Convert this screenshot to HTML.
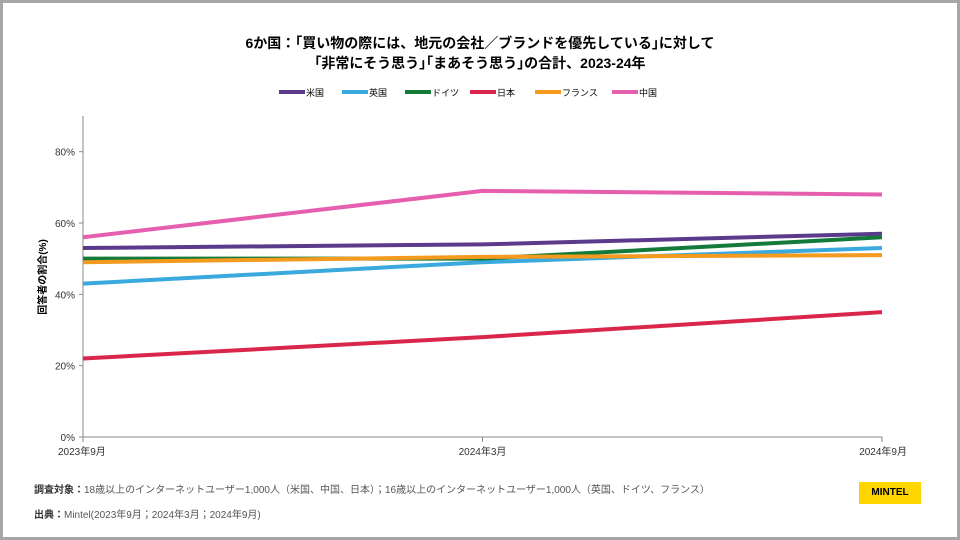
<!DOCTYPE html>
<html><head><meta charset="utf-8"><style>
body{margin:0;width:960px;height:540px;overflow:hidden;font-family:"Liberation Sans","Noto Sans CJK JP",sans-serif;}
#frame{position:absolute;left:0;top:0;width:954px;height:534px;border:3px solid #a6a6a6;background:#fff;}
.t{position:absolute;white-space:nowrap;}
</style></head><body>
<div id="frame"></div>
<div class="t" style="left:0;width:960px;top:33px;text-align:center;font-weight:bold;font-size:14px;line-height:20px;color:#000">6か国：｢買い物の際には、地元の会社／ブランドを優先している｣に対して<br>｢非常にそう思う｣｢まあそう思う｣の合計、2023-24年</div>
<svg id="chart" width="960" height="540" style="position:absolute;left:0;top:0"></svg>
<div class="t" style="left:34px;top:481px;font-size:10px;color:#555"><b style="color:#333">調査対象：</b>18歳以上のインターネットユーザー1,000人（米国、中国、日本）；16歳以上のインターネットユーザー1,000人（英国、ドイツ、フランス）</div>
<div class="t" style="left:34px;top:506px;font-size:10px;color:#555"><b style="color:#333">出典：</b>Mintel(2023年9月；2024年3月；2024年9月)</div>
<div class="t" style="left:859px;top:482px;width:62px;height:22px;background:#ffd500;font-weight:bold;font-size:10px;line-height:22px;text-align:center;color:#000">MINTEL</div>
<script>
const categories=["2023年9月","2024年3月","2024年9月"];
const seriesNames=["米国","英国","ドイツ","日本","フランス","中国"];
const seriesColors=["#5b3a8c","#3aa9de","#137a3a","#d9264a","#f39a1f","#e65fae"];
const usValues=[53,54,57];
const ukValues=[43,49,53];
const deValues=[50,50,56];
const jpValues=[22,28,35];
const frValues=[49,50.5,51];
const cnValues=[56,69,68];
const yTicks=[0,20,40,60,80];
const allSeries=[usValues,ukValues,deValues,jpValues,frValues,cnValues];
const NS="http://www.w3.org/2000/svg";
const svg=document.getElementById('chart');
const x0=83,x1=882,yb=437,yMax=90,yt=116;
const xs=i=>x0+(x1-x0)*i/(categories.length-1);
const ys=v=>yb-(yb-yt)*v/yMax;
function mk(t,a){const e=document.createElementNS(NS,t);for(const k in a)e.setAttribute(k,a[k]);svg.appendChild(e);return e;}
let e=mk('line',{x1:x0,y1:yt,x2:x0,y2:yb+4,stroke:'#888'});

e=mk('line',{x1:x0,y1:yb,x2:x1,y2:yb,stroke:'#888'});

yTicks.forEach(v=>{
 const l=mk('line',{x1:x0-4,y1:ys(v),x2:x0,y2:ys(v),stroke:'#888'});
 
 const t=mk('text',{x:x0-8,y:ys(v)+4,'text-anchor':'end','font-size':10,fill:'#333'});
 t.textContent=v+'%';
 
});
categories.forEach((c,i)=>{
 const l=mk('line',{x1:xs(i),y1:yb,x2:xs(i),y2:yb+5,stroke:'#888'});
 
 const anc=i==0?'start':(i==categories.length-1?'end':'middle');
 const t=mk('text',{x:i==0?x0-25:(i==categories.length-1?x1+25:xs(i)),y:yb+18,'text-anchor':anc,'font-size':10,fill:'#333'});
 t.textContent=c;
 
});
const yl=mk('text',{transform:'translate(46,277) rotate(-90)','text-anchor':'middle','font-size':10,'font-weight':'bold',fill:'#000'});
yl.textContent='回答者の割合(%)';

allSeries.forEach((vals,s)=>{
 const p=mk('polyline',{points:vals.map((v,i)=>xs(i)+','+ys(v)).join(' '),fill:'none',stroke:seriesColors[s],'stroke-width':4});
 
});
const legX=[279,342,405,470,535,612];
seriesNames.forEach((n,s)=>{
 const g=mk('g',{});
 
 const l=document.createElementNS(NS,'line');
 [['x1',legX[s]],['y1',92],['x2',legX[s]+26],['y2',92],['stroke',seriesColors[s]],['stroke-width',4]].forEach(a=>l.setAttribute(a[0],a[1]));
 g.appendChild(l);
 const t=document.createElementNS(NS,'text');
 [['x',legX[s]+27],['y',96],['font-size',9],['fill','#000']].forEach(a=>t.setAttribute(a[0],a[1]));
 t.textContent=n;g.appendChild(t);
});
</script>
</body></html>
